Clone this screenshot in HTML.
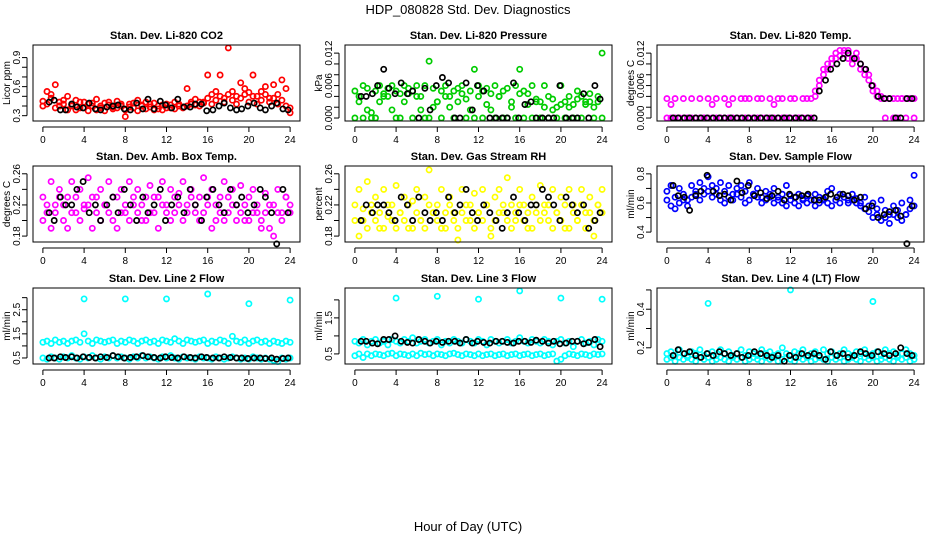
<!DOCTYPE html>
<html><head><meta charset="utf-8"><style>
body{margin:0;background:#fff;}
svg{display:block;font-family:"Liberation Sans",Arial,sans-serif;}
</style></head><body>
<svg id="chart" width="936" height="540" viewBox="0 0 936 540" xmlns="http://www.w3.org/2000/svg">
<rect x="0" y="0" width="936" height="540" fill="#fff"/>
<text x="468" y="14" text-anchor="middle" font-size="13">HDP_080828  Std. Dev. Diagnostics</text>
<text x="468" y="531" text-anchor="middle" font-size="13">Hour of Day (UTC)</text>
</svg>
<script>
const hours=[0,0.4,0.8,1.2,1.6,2,2.4,2.8,3.2,3.6,4,4.4,4.8,5.2,5.6,6,6.4,6.8,7.2,7.6,8,8.4,8.8,9.2,9.6,10,10.4,10.8,11.2,11.6,12,12.4,12.8,13.2,13.6,14,14.4,14.8,15.2,15.6,16,16.4,16.8,17.2,17.6,18,18.4,18.8,19.2,19.6,20,20.4,20.8,21.2,21.6,22,22.4,22.8,23.2,23.6,24];
const blackX=[0.6,1.1,1.7,2.2,2.8,3.3,3.9,4.5,5.1,5.6,6.2,6.8,7.3,7.9,8.5,9.1,9.7,10.2,10.8,11.4,11.9,12.5,13.1,13.7,14.3,14.8,15.4,15.9,16.5,17.1,17.6,18.2,18.8,19.3,19.9,20.5,21.1,21.6,22.2,22.7,23.3,23.8];
const spikeX=[4,8,12,16,20,24];

const co2A=[0.45,0.55,0.48,0.62,0.44,0.42,0.50,0.40,0.46,0.38,0.44,0.42,0.40,0.47,0.38,0.43,0.41,0.39,0.45,0.40,0.29,0.42,0.38,0.46,0.40,0.44,0.39,0.43,0.37,0.41,0.42,0.38,0.44,0.40,0.39,0.58,0.42,0.41,0.44,0.43,0.72,0.52,0.55,0.72,0.48,1.0,0.55,0.50,0.64,0.58,0.54,0.72,0.50,0.55,0.60,0.48,0.62,0.52,0.67,0.58,0.33];
const co2B=[0.40,0.42,0.52,0.38,0.40,0.46,0.36,0.42,0.36,0.44,0.38,0.35,0.43,0.36,0.40,0.35,0.44,0.37,0.38,0.42,0.36,0.39,0.43,0.35,0.41,0.37,0.42,0.36,0.40,0.36,0.38,0.41,0.37,0.42,0.38,0.40,0.44,0.47,0.40,0.44,0.48,0.42,0.46,0.50,0.44,0.52,0.46,0.42,0.48,0.52,0.44,0.50,0.42,0.46,0.52,0.44,0.48,0.42,0.46,0.40,0.38];
const co2K=[0.44,0.46,0.36,0.36,0.42,0.39,0.38,0.43,0.37,0.36,0.39,0.40,0.41,0.37,0.36,0.43,0.37,0.47,0.37,0.45,0.41,0.38,0.47,0.39,0.39,0.42,0.42,0.35,0.36,0.40,0.43,0.38,0.36,0.37,0.40,0.43,0.38,0.36,0.40,0.43,0.37,0.36];

const presA=[0.005,0.004,0.006,0.0055,0.001,0.005,0.006,0.004,0.0055,0.006,0.005,0.0045,0.006,0.0055,0.005,0.006,0.004,0.006,0.0105,0.0055,0.003,0.005,0.006,0.004,0.005,0.0055,0.006,0.0035,0.005,0.009,0.006,0.005,0.0055,0.0045,0.006,0.004,0.005,0.0055,0.003,0.006,0.009,0.005,0.0045,0.006,0.0035,0.003,0.006,0.004,0.0035,0.002,0.006,0.003,0.004,0.0025,0.005,0.004,0.003,0.0045,0.002,0.004,0.012];
const presB=[0,0.003,0,0.0015,0,0,0.003,0.0045,0.004,0.0015,0,0,0.003,0.0045,0,0.004,0.0015,0,0,0.002,0.003,0,0.004,0.002,0,0.003,0.0045,0,0.0015,0,0.004,0,0.0025,0.0015,0,0.004,0,0,0.002,0,0.0045,0,0.0025,0,0.003,0,0.002,0,0.0015,0,0.0025,0,0.002,0,0.0035,0,0.0025,0.003,0,0.003,0];
const presK=[0.004,0.004,0.0045,0.006,0.009,0.0055,0.0045,0.0065,0.0045,0.005,0,0.0055,0.0015,0.006,0.0075,0.0065,0,0,0.0065,0.0015,0.006,0.005,0,0,0,0,0.0065,0,0.0025,0.003,0,0,0,0,0.006,0,0,0,0.0045,0,0.006,0.0035];

const tempA=[0.0036,0.0025,0.0036,0,0.0036,0,0.0036,0,0.0036,0,0.0036,0.0025,0.0036,0,0.0036,0.0025,0.0036,0,0.0036,0.0036,0.0036,0,0.0036,0.0036,0,0.0036,0.0025,0.0036,0.0036,0,0.0036,0.0036,0,0.0036,0.0036,0.0036,0.005,0.007,0.009,0.010,0.011,0.012,0.0125,0.012,0.0125,0.011,0.012,0.010,0.009,0.008,0.006,0.005,0.004,0.0036,0.0036,0.0036,0.0036,0.0036,0.0036,0.0036,0.0036];
const tempB=[0,0,0,0,0,0,0,0,0,0,0,0,0,0,0,0,0,0,0,0,0,0,0,0,0,0,0,0,0,0,0,0,0,0,0,0,0.004,0.006,0.008,0.009,0.010,0.011,0.0115,0.0125,0.011,0.010,0.011,0.009,0.008,0.007,0.005,0.004,0.0036,0,0.0036,0,0,0.0036,0,0.0036,0];
const tempK=[0,0,0,0,0,0,0,0,0,0,0,0,0,0,0,0,0,0,0,0,0,0,0,0,0,0.005,0.007,0.009,0.010,0.011,0.012,0.011,0.010,0.009,0.006,0.004,0.0036,0.0036,0,0,0.0036,0.0036];

const ambA=[0.23,0.21,0.25,0.22,0.24,0.20,0.23,0.25,0.21,0.24,0.22,0.255,0.23,0.21,0.24,0.22,0.25,0.20,0.23,0.24,0.21,0.25,0.22,0.24,0.20,0.23,0.245,0.21,0.23,0.25,0.22,0.24,0.21,0.235,0.25,0.22,0.24,0.21,0.23,0.255,0.22,0.24,0.20,0.23,0.25,0.21,0.24,0.22,0.245,0.20,0.23,0.24,0.21,0.19,0.235,0.22,0.18,0.24,0.21,0.23,0.22];
const ambB=[0.20,0.22,0.19,0.21,0.23,0.22,0.19,0.21,0.23,0.20,0.215,0.22,0.19,0.23,0.20,0.22,0.21,0.23,0.19,0.21,0.22,0.20,0.23,0.21,0.22,0.20,0.21,0.23,0.19,0.22,0.21,0.20,0.23,0.22,0.20,0.21,0.23,0.22,0.20,0.21,0.23,0.19,0.22,0.21,0.20,0.23,0.22,0.20,0.21,0.22,0.20,0.21,0.22,0.20,0.21,0.19,0.22,0.21,0.20,0.23,0.21];
const ambK=[0.21,0.20,0.23,0.22,0.22,0.24,0.25,0.21,0.22,0.20,0.22,0.23,0.21,0.24,0.22,0.20,0.23,0.21,0.22,0.24,0.20,0.22,0.23,0.21,0.24,0.22,0.20,0.23,0.24,0.22,0.21,0.24,0.22,0.23,0.21,0.22,0.24,0.23,0.21,0.17,0.24,0.21];

const rhA=[0.22,0.24,0.20,0.25,0.21,0.23,0.19,0.24,0.22,0.20,0.245,0.21,0.23,0.19,0.225,0.24,0.20,0.23,0.265,0.21,0.22,0.24,0.19,0.23,0.21,0.175,0.24,0.22,0.20,0.235,0.21,0.24,0.22,0.18,0.23,0.24,0.21,0.255,0.22,0.20,0.24,0.22,0.19,0.23,0.21,0.245,0.22,0.20,0.24,0.21,0.23,0.19,0.24,0.22,0.20,0.24,0.21,0.23,0.18,0.22,0.24];
const rhB=[0.20,0.18,0.215,0.19,0.22,0.20,0.21,0.19,0.205,0.22,0.19,0.21,0.20,0.22,0.19,0.21,0.20,0.19,0.22,0.21,0.20,0.19,0.21,0.22,0.20,0.19,0.21,0.20,0.22,0.19,0.21,0.20,0.22,0.19,0.20,0.21,0.22,0.20,0.19,0.21,0.22,0.20,0.21,0.19,0.22,0.20,0.21,0.22,0.19,0.21,0.20,0.22,0.19,0.21,0.20,0.22,0.19,0.21,0.20,0.22,0.21];
const rhK=[0.20,0.22,0.21,0.22,0.22,0.21,0.20,0.23,0.22,0.20,0.23,0.21,0.20,0.21,0.20,0.23,0.21,0.22,0.24,0.21,0.20,0.22,0.21,0.20,0.19,0.21,0.23,0.21,0.20,0.22,0.22,0.24,0.23,0.22,0.20,0.23,0.22,0.21,0.22,0.19,0.20,0.21];

const flowA=[0.68,0.72,0.64,0.70,0.66,0.62,0.72,0.68,0.74,0.70,0.78,0.72,0.70,0.74,0.68,0.72,0.66,0.70,0.72,0.68,0.74,0.66,0.70,0.64,0.68,0.66,0.70,0.64,0.66,0.72,0.65,0.64,0.66,0.63,0.65,0.62,0.66,0.64,0.63,0.68,0.70,0.62,0.66,0.64,0.62,0.66,0.63,0.60,0.64,0.58,0.60,0.56,0.62,0.55,0.52,0.58,0.55,0.60,0.52,0.62,0.79];
const flowB=[0.62,0.58,0.56,0.60,0.62,0.58,0.64,0.66,0.62,0.66,0.68,0.64,0.66,0.62,0.60,0.64,0.62,0.66,0.64,0.60,0.62,0.66,0.64,0.60,0.62,0.64,0.60,0.62,0.60,0.58,0.62,0.60,0.58,0.62,0.60,0.62,0.58,0.60,0.62,0.60,0.58,0.62,0.60,0.64,0.60,0.62,0.60,0.58,0.56,0.54,0.50,0.52,0.48,0.50,0.46,0.52,0.50,0.48,0.52,0.56,0.58];
const flowK=[0.72,0.65,0.64,0.55,0.65,0.68,0.79,0.68,0.65,0.66,0.62,0.75,0.67,0.72,0.65,0.67,0.63,0.65,0.68,0.62,0.66,0.64,0.65,0.66,0.62,0.62,0.64,0.66,0.64,0.66,0.65,0.62,0.64,0.56,0.58,0.50,0.52,0.54,0.55,0.51,0.32,0.58];

const l2A=[1.15,1.2,1.1,1.25,1.15,1.2,1.1,1.2,1.25,1.15,1.5,1.2,1.1,1.25,1.2,1.15,1.2,1.25,1.1,1.2,1.15,1.25,1.2,1.1,1.2,1.25,1.15,1.2,1.1,1.25,1.2,1.15,1.3,1.2,1.1,1.25,1.2,1.15,1.2,1.25,1.1,1.2,1.15,1.25,1.2,1.1,1.4,1.2,1.15,1.25,1.1,1.2,1.25,1.15,1.2,1.1,1.2,1.15,1.1,1.2,1.15];
const l2B=[0.5,0.45,0.55,0.5,0.45,0.55,0.5,0.6,0.5,0.45,0.55,0.5,0.6,0.5,0.45,0.55,0.5,0.6,0.5,0.55,0.5,0.45,0.55,0.5,0.6,0.5,0.55,0.5,0.45,0.55,0.5,0.6,0.5,0.45,0.55,0.5,0.5,0.45,0.55,0.5,0.5,0.45,0.55,0.5,0.45,0.5,0.55,0.5,0.45,0.5,0.45,0.55,0.5,0.45,0.5,0.45,0.4,0.35,0.5,0.45,0.5];
const l2S=[2.95,2.95,2.95,3.15,2.75,2.9];
const l2K=[0.5,0.5,0.55,0.52,0.55,0.5,0.55,0.52,0.5,0.55,0.52,0.6,0.55,0.5,0.52,0.55,0.6,0.55,0.52,0.5,0.55,0.52,0.5,0.55,0.52,0.5,0.55,0.52,0.5,0.5,0.55,0.52,0.5,0.5,0.48,0.5,0.5,0.48,0.5,0.45,0.48,0.5];

const l3A=[0.85,0.8,0.9,0.75,0.85,0.9,0.8,0.85,0.75,0.9,0.85,0.8,0.9,0.85,0.95,0.8,0.85,0.9,0.8,0.85,0.9,0.75,0.85,0.8,0.9,0.85,0.8,0.9,0.85,0.8,0.9,0.85,0.75,0.9,0.85,0.8,0.85,0.9,0.8,0.85,0.95,0.85,0.8,0.9,0.85,0.8,0.9,0.85,0.75,0.85,0.9,0.8,0.85,0.7,0.85,0.9,0.8,0.85,0.75,0.9,0.85];
const l3B=[0.45,0.5,0.4,0.5,0.45,0.5,0.48,0.45,0.5,0.52,0.45,0.5,0.48,0.45,0.5,0.45,0.52,0.48,0.5,0.45,0.5,0.48,0.45,0.5,0.52,0.48,0.45,0.5,0.48,0.45,0.5,0.45,0.48,0.5,0.45,0.48,0.5,0.45,0.48,0.5,0.45,0.48,0.5,0.45,0.48,0.5,0.45,0.48,0.5,0.3,0.35,0.45,0.5,0.48,0.45,0.5,0.48,0.45,0.5,0.48,0.5];
const l3S=[2.05,2.1,2.02,2.25,2.05,2.02];
const l3K=[0.85,0.85,0.8,0.78,0.9,0.9,1.0,0.85,0.82,0.8,0.9,0.85,0.8,0.85,0.82,0.85,0.85,0.8,0.9,0.8,0.85,0.82,0.8,0.85,0.85,0.82,0.8,0.85,0.85,0.82,0.88,0.85,0.8,0.85,0.78,0.8,0.85,0.85,0.78,0.82,0.9,0.7];

const l4A=[0.17,0.18,0.16,0.19,0.17,0.16,0.18,0.17,0.19,0.16,0.17,0.18,0.16,0.19,0.17,0.18,0.16,0.17,0.19,0.16,0.18,0.17,0.16,0.19,0.17,0.18,0.16,0.17,0.2,0.17,0.16,0.18,0.17,0.19,0.16,0.17,0.18,0.16,0.19,0.17,0.18,0.16,0.17,0.19,0.17,0.16,0.18,0.17,0.19,0.16,0.17,0.18,0.16,0.19,0.17,0.18,0.16,0.17,0.19,0.17,0.16];
const l4B=[0.14,0.15,0.13,0.15,0.14,0.15,0.14,0.13,0.15,0.14,0.15,0.13,0.14,0.15,0.14,0.13,0.15,0.14,0.15,0.13,0.14,0.15,0.14,0.13,0.15,0.14,0.15,0.13,0.14,0.15,0.14,0.13,0.15,0.14,0.15,0.13,0.14,0.15,0.14,0.13,0.15,0.14,0.15,0.13,0.14,0.15,0.14,0.13,0.15,0.14,0.15,0.13,0.14,0.15,0.14,0.13,0.15,0.14,0.15,0.13,0.14];
const l4SX=[4,12,20];
const l4S=[0.43,0.5,0.44];
const l4K=[0.16,0.19,0.17,0.18,0.16,0.15,0.17,0.16,0.18,0.17,0.16,0.17,0.15,0.16,0.18,0.17,0.16,0.15,0.16,0.13,0.16,0.15,0.17,0.16,0.17,0.16,0.14,0.18,0.16,0.17,0.15,0.16,0.18,0.17,0.16,0.18,0.17,0.16,0.17,0.2,0.17,0.16];

const xTicks=[0,4,8,12,16,20,24];

const panels=[
 {name:'co2',title:'Stan. Dev. Li-820 CO2',ylab:'Licor ppm',col:0,row:0,lo:0.245,hi:1.03,ticks:[0.3,0.4,0.5,0.6,0.7,0.8,0.9],labels:['0.3','0.6','0.9'],color:'#ff0000',series:[[hours,co2A],[hours,co2B]],black:co2K},
 {name:'pressure',title:'Stan. Dev. Li-820 Pressure',ylab:'kPa',col:1,row:0,lo:-0.00055,hi:0.0135,ticks:[0,0.002,0.004,0.006,0.008,0.010,0.012],labels:['0.000','0.006','0.012'],color:'#00cc00',series:[[hours,presA],[hours,presB]],black:presK},
 {name:'temp',title:'Stan. Dev. Li-820 Temp.',ylab:'degrees C',col:2,row:0,lo:-0.00055,hi:0.0135,ticks:[0,0.002,0.004,0.006,0.008,0.010,0.012],labels:['0.000','0.006','0.012'],color:'#ff00ff',series:[[hours,tempA],[hours,tempB]],black:tempK},
 {name:'amb-box',title:'Stan. Dev. Amb. Box Temp.',ylab:'degrees C',col:0,row:1,lo:0.1724,hi:0.270,ticks:[0.18,0.20,0.22,0.24,0.26],labels:['0.18','0.22','0.26'],color:'#ff00ff',series:[[hours,ambA],[hours,ambB]],black:ambK},
 {name:'rh',title:'Stan. Dev. Gas Stream RH',ylab:'percent',col:1,row:1,lo:0.1724,hi:0.270,ticks:[0.18,0.20,0.22,0.24,0.26],labels:['0.18','0.22','0.26'],color:'#ffff00',series:[[hours,rhA],[hours,rhB]],black:rhK},
 {name:'sample-flow',title:'Stan. Dev. Sample Flow',ylab:'ml/min',col:2,row:1,lo:0.332,hi:0.854,ticks:[0.4,0.5,0.6,0.7,0.8],labels:['0.4','0.6','0.8'],color:'#0000ff',series:[[hours,flowA],[hours,flowB]],black:flowK},
 {name:'line2',title:'Stan. Dev. Line 2 Flow',ylab:'ml/min',col:0,row:2,lo:0.25,hi:3.4,ticks:[0.5,1,1.5,2,2.5,3],labels:['0.5','1.5','2.5'],color:'#00ffff',series:[[hours,l2A],[hours,l2B],[spikeX,l2S]],black:l2K},
 {name:'line3',title:'Stan. Dev. Line 3 Flow',ylab:'ml/min',col:1,row:2,lo:0.22,hi:2.33,ticks:[0.5,1,1.5,2],labels:['0.5','1.5'],color:'#00ffff',series:[[hours,l3A],[hours,l3B],[spikeX,l3S]],black:l3K},
 {name:'line4',title:'Stan. Dev. Line 4 (LT) Flow',ylab:'ml/min',col:2,row:2,lo:0.116,hi:0.51,ticks:[0.2,0.3,0.4,0.5],labels:['0.2','0.4'],color:'#00ffff',series:[[hours,l4A],[hours,l4B],[l4SX,l4S]],black:l4K}
];

const NS='http://www.w3.org/2000/svg';
const svg=document.getElementById('chart');
const lefts=[33,345,657], tops=[45,166,288], W=267, H=76;
function mk(tag,attrs,parent){const e=document.createElementNS(NS,tag);for(const k in attrs)e.setAttribute(k,attrs[k]);parent.appendChild(e);return e;}
function fmt(v,labels){return labels.find(l=>Math.abs(parseFloat(l)-v)<1e-9);}

panels.forEach(p=>{
 const L=lefts[p.col], T=tops[p.row];
 const g=mk('g',{},svg);
 
 
 const xs=h=>L+(h+0.96)/25.92*W;
 const ys=v=>T+H-(v-p.lo)/(p.hi-p.lo)*H;
 const t=mk('text',{x:L+W/2,y:T-6,'text-anchor':'middle','font-size':'11','font-weight':'bold'},g);
 
 
 t.textContent=p.title;
 const yl=mk('text',{x:0,y:0,'text-anchor':'middle','font-size':'10',transform:`translate(${L-23},${T+H/2}) rotate(-90)`},g);
 
 
 yl.textContent=p.ylab;
 const pts=mk('g',{fill:'none','stroke-width':'1.7'},g);
 
 
 p.series.forEach(([hx,vy])=>{
  const n=Math.min(hx.length,vy.length);
  for(let i=0;i<n;i++){const c=mk('circle',{cx:xs(hx[i]).toFixed(1),cy:ys(vy[i]).toFixed(1),r:2.6,stroke:p.color},pts);
   
   }
 });
 const n=Math.min(blackX.length,p.black.length);
 for(let i=0;i<n;i++){const c=mk('circle',{cx:xs(blackX[i]).toFixed(1),cy:ys(p.black[i]).toFixed(1),r:2.6,stroke:'#000'},pts);
  
  }
 const b=mk('rect',{x:L,y:T,width:W,height:H,fill:'none',stroke:'#000','stroke-width':'1'},g);
 
 
 const xa=mk('g',{stroke:'#000','stroke-width':'1'},g);
 
 
 mk('line',{x1:xs(0),x2:xs(24),y1:T+H+6,y2:T+H+6},xa);
 xTicks.forEach(v=>{
  mk('line',{x1:xs(v),x2:xs(v),y1:T+H+6,y2:T+H+11},xa);
  const tl=mk('text',{x:xs(v),y:T+H+22,'text-anchor':'middle','font-size':'10',stroke:'none',fill:'#000'},xa);
  
  
  tl.textContent=v;
 });
 const ya=mk('g',{stroke:'#000','stroke-width':'1'},g);
 
 
 mk('line',{x1:L-6,x2:L-6,y1:ys(p.ticks[0]),y2:ys(p.ticks[p.ticks.length-1])},ya);
 p.ticks.forEach(v=>{
  mk('line',{x1:L-11,x2:L-6,y1:ys(v),y2:ys(v)},ya);
  const lab=fmt(v,p.labels);
  if(lab){const tl=mk('text',{x:0,y:0,'text-anchor':'middle','font-size':'10',stroke:'none',fill:'#000',transform:`translate(${L-13},${ys(v)}) rotate(-90)`},ya);
   
   
   tl.textContent=lab;}
 });
});
</script>
</body></html>
